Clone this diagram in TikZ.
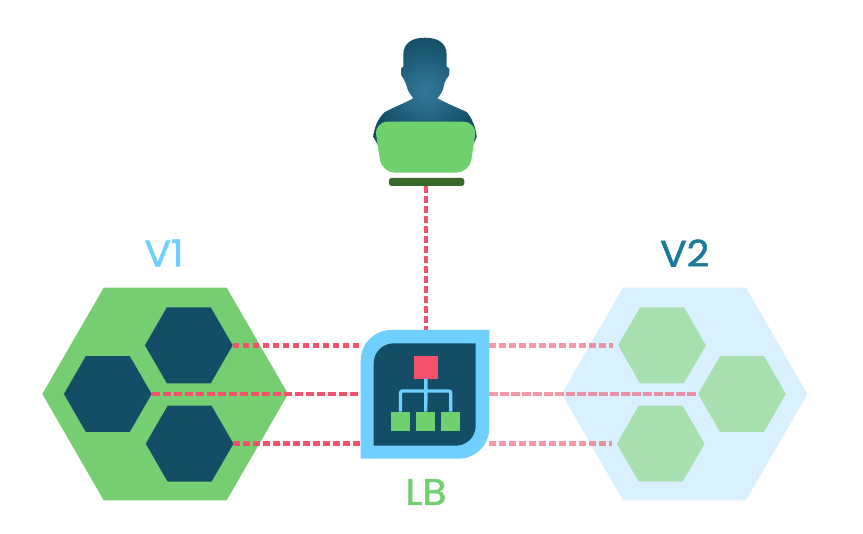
\documentclass[tikz,border=0pt]{standalone}
\usepackage{fontspec}
\setmainfont{Poppins}
\newfontfamily\titlefont[FakeBold=1.4,FakeStretch=1.07]{Poppins}
\usepackage{xcolor}
\usetikzlibrary{calc,positioning,shapes.geometric}
\definecolor{navy}{HTML}{134E66}
\definecolor{navyLight}{HTML}{33799A}
\definecolor{sky}{HTML}{6FD0FF}
\definecolor{skySoft}{HTML}{D9F1FE}
\definecolor{teal}{HTML}{1A7A9A}
\definecolor{green}{HTML}{76CE72}
\definecolor{greenBright}{HTML}{6FD16E}
\definecolor{greenSoft}{HTML}{A8DFB0}
\definecolor{greenDark}{HTML}{36692B}
\definecolor{red}{HTML}{F4516C}

\begin{document}
\begin{tikzpicture}[
    x=0.75pt,
    y=-0.75pt,
    bighex/.style={
        regular polygon,
        regular polygon sides=6,
        minimum size=184.3pt,
        inner sep=0pt,
        outer sep=0pt,
        draw=none
    },
    smallhex/.style={
        regular polygon,
        regular polygon sides=6,
        minimum size=65.8pt,
        inner sep=0pt,
        outer sep=0pt,
        draw=none
    },
    title/.style={font=\titlefont\fontsize{27.5}{27.5}\selectfont, inner sep=0pt},
    square/.style={inner sep=0pt, outer sep=0pt, draw=none},
    leaf/.style={square, fill=greenBright, minimum size=14.25pt},
    side/.style={draw=red, line width=3.6pt, dash pattern=on 4.9pt off 2.6pt},
    mid/.style={draw=red, line width=3.6pt, dash pattern=on 6.5pt off 1.75pt},
    faded/.style={draw opacity=0.6},
    tree/.style={draw=sky, line width=2.5pt, rounded corners=1.5pt}
]
\useasboundingbox (0,0) rectangle (863,534);

% Version groups.
\node[bighex, fill=green] (groupA) at (165.2,394) {};
\node[smallhex, fill=navy] (hexA1) at (188.8,345.3) {};
\node[smallhex, fill=navy] (hexA2) at (107.8,394) {};
\node[smallhex, fill=navy] (hexA3) at (189.6,443.7) {};

\node[bighex, fill=skySoft] (groupB) at (684.5,394) {};
\node[smallhex, fill=greenSoft] (hexB1) at (662,345.3) {};
\node[smallhex, fill=greenSoft] (hexB2) at (742,394) {};
\node[smallhex, fill=greenSoft] (hexB3) at (660.7,443.7) {};

\node[title, text=sky] (labelA) at (164,253) {V1};
\node[title, text=teal] (labelB) at (684.7,253) {V2};

% Load balancer frame, filled further down.
\node[square, minimum width=96.45pt, minimum height=96.5pt] (lb) at (425,394.3) {};
\node[square, minimum width=76.5pt, minimum height=76.8pt] (lbInner) at (424.7,394.5) {};

% User.
\node[square, fill=greenDark, rounded corners=2pt, minimum width=56.5pt, minimum height=6pt] (desk) at (426.6,182) {};
\coordinate (axis) at (426,0);

\shade[inner color=navyLight, outer color=navy]
    (413.3,98.3) .. controls (405,103) and (392,108) .. (385,112)
    .. controls (378,118) and (374,128) .. (373.3,137)
    -- (378,145) -- (473,145) -- (476.7,137)
    .. controls (476,128) and (472,118) .. (466.7,112)
    .. controls (458,108) and (446,103) .. (437.3,98.3)
    .. controls (441,94) and (442.5,91) .. (443.3,88.3)
    .. controls (444,84) and (445,81) .. (446.7,78.3)
    .. controls (448.5,77) and (449.5,75) .. (449.3,73)
    -- (449.3,69.5) .. controls (449,68) and (448,67) .. (446.7,66.7)
    -- (446.7,55) .. controls (446.7,43) and (438,37.7) .. (425,37.7)
    .. controls (412,37.7) and (403.3,43) .. (403.3,55)
    -- (403.3,66.7) .. controls (402,67) and (401,68) .. (401,69.5)
    -- (401,73) .. controls (400.8,75) and (401.8,77) .. (403.3,78.3)
    .. controls (405,81) and (406,84) .. (407.3,88.3)
    .. controls (408,91) and (410,94) .. (413.3,98.3) -- cycle;
\fill[greenBright, rounded corners=10pt]
    (374.3,121.7) -- (477,121.7) -- (469.5,172.7) -- (381.7,172.7) -- cycle;

% Links.
\draw[side] (hexA1.east) -- (hexA1.east -| lb.west);
\draw[mid] (hexA2.east) -- (hexA2.east -| lb.west);
\draw[side] (hexA3.east) -- (hexA3.east -| lb.west);
\draw[side, faded, shorten >=3.7pt] (hexB1.west -| lb.east) -- (hexB1.west);
\draw[mid, faded, shorten >=1pt] (hexB2.west -| lb.east) -- (hexB2.west);
\draw[side, faded, shorten >=3.7pt] (hexB3.west -| lb.east) -- (hexB3.west);
\draw[side] (axis |- desk.south) -- (axis |- lb.north);

% Load balancer.
\fill[sky] (lb.south west) [rounded corners=23pt] -- (lb.north west) [sharp corners] -- (lb.north east)
    [rounded corners=23pt] -- (lb.south east) [sharp corners] -- cycle;
\fill[navy] (lbInner.south west) [rounded corners=15pt] -- (lbInner.north west) [sharp corners] -- (lbInner.north east)
    [rounded corners=15pt] -- (lbInner.south east) [sharp corners] -- cycle;

\node[square, fill=red, minimum width=17.8pt, minimum height=17.5pt] (root) at (425.9,367.3) {};
\node[leaf] (leafA) at (400.5,421.2) {};
\node[leaf] (leafB) at (425.8,421.2) {};
\node[leaf] (leafC) at (450.8,421.2) {};
\coordinate (bus) at (root.south |- 0,391);

\draw[tree] (leafA.north) |- (bus) -| (leafC.north);
\draw[tree] (root.south) -- (leafB.north);

\node[title, text=greenBright] (labelLB) at (426,492) {LB};
\end{tikzpicture}
\end{document}
